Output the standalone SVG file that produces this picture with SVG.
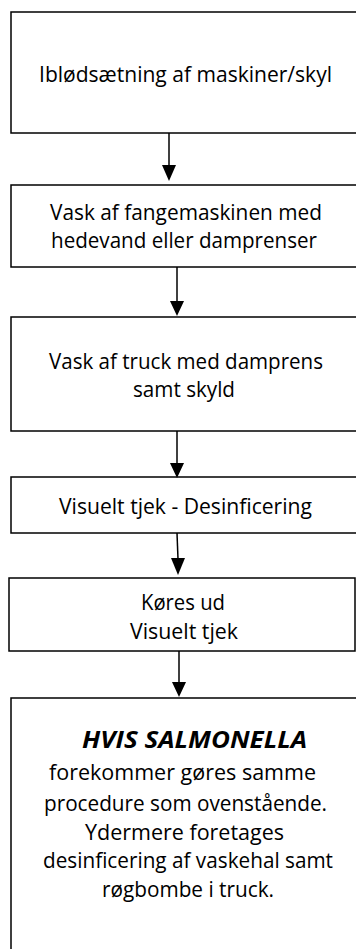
<svg xmlns="http://www.w3.org/2000/svg" width="356" height="949" viewBox="0 0 356 949">
<style>
.box{fill:#fff;stroke:#000;stroke-width:1.5}
.t{font-family:"Open Sans","Noto Sans","Liberation Sans",sans-serif;font-size:21.5px;fill:#000}
.b{font-weight:bold;font-style:italic;font-size:23px}
.c{stroke:#000;stroke-width:1.5;fill:none}
.h{fill:#000;stroke:none}
</style>
<rect width="356" height="949" fill="#fff"/>
<g id="n1">
<rect class="box" x="11" y="12" width="349" height="121"/>
<text class="t" x="39" y="82" textLength="293" lengthAdjust="spacingAndGlyphs">Iblødsætning af maskiner/skyl</text>
</g>
<g id="n2">
<rect class="box" x="11" y="185" width="349" height="82"/>
<text class="t" x="50" y="220" textLength="272" lengthAdjust="spacingAndGlyphs">Vask af fangemaskinen med</text>
<text class="t" x="51" y="248" textLength="266" lengthAdjust="spacingAndGlyphs">hedevand eller damprenser</text>
</g>
<g id="n3">
<rect class="box" x="11" y="317" width="349" height="114"/>
<text class="t" x="49" y="369" textLength="274" lengthAdjust="spacingAndGlyphs">Vask af truck med damprens</text>
<text class="t" x="133" y="397" textLength="102" lengthAdjust="spacingAndGlyphs">samt skyld</text>
</g>
<g id="n4">
<rect class="box" x="11" y="477" width="349" height="56"/>
<text class="t" x="59" y="514" textLength="253" lengthAdjust="spacingAndGlyphs">Visuelt tjek - Desinficering</text>
</g>
<g id="n5">
<rect class="box" x="9" y="578" width="346" height="73" stroke-width="1.2"/>
<text class="t" x="141" y="610" textLength="84" lengthAdjust="spacingAndGlyphs">Køres ud</text>
<text class="t" x="130" y="639" textLength="108" lengthAdjust="spacingAndGlyphs">Visuelt tjek</text>
</g>
<g id="n6">
<rect class="box" x="11" y="698" width="349" height="260"/>
<text class="t b" x="82" y="748" textLength="225" lengthAdjust="spacingAndGlyphs">HVIS SALMONELLA</text>
<text class="t" x="49" y="780" textLength="267" lengthAdjust="spacingAndGlyphs">forekommer gøres samme</text>
<text class="t" x="44" y="811" textLength="283" lengthAdjust="spacingAndGlyphs">procedure som ovenstående.</text>
<text class="t" x="85" y="840" textLength="199" lengthAdjust="spacingAndGlyphs">Ydermere foretages</text>
<text class="t" x="43" y="868" textLength="290" lengthAdjust="spacingAndGlyphs">desinficering af vaskehal samt</text>
<text class="t" x="102" y="897" textLength="172" lengthAdjust="spacingAndGlyphs">røgbombe i truck.</text>
</g>
<g id="connectors">
<line class="c" x1="169" y1="133" x2="169" y2="166"/>
<polygon class="h" points="162,165 176,165 169,181"/>
<line class="c" x1="177" y1="267" x2="177" y2="302"/>
<polygon class="h" points="170,301 184,301 177,316"/>
<line class="c" x1="177" y1="431" x2="177" y2="464"/>
<polygon class="h" points="170,463 184,463 177,478"/>
<line class="c" x1="177" y1="533" x2="178" y2="559"/>
<polygon class="h" points="171,558 185,558 178,575"/>
<line class="c" x1="179" y1="651" x2="179" y2="683"/>
<polygon class="h" points="172,682 186,682 179,697"/>
</g>
</svg>
